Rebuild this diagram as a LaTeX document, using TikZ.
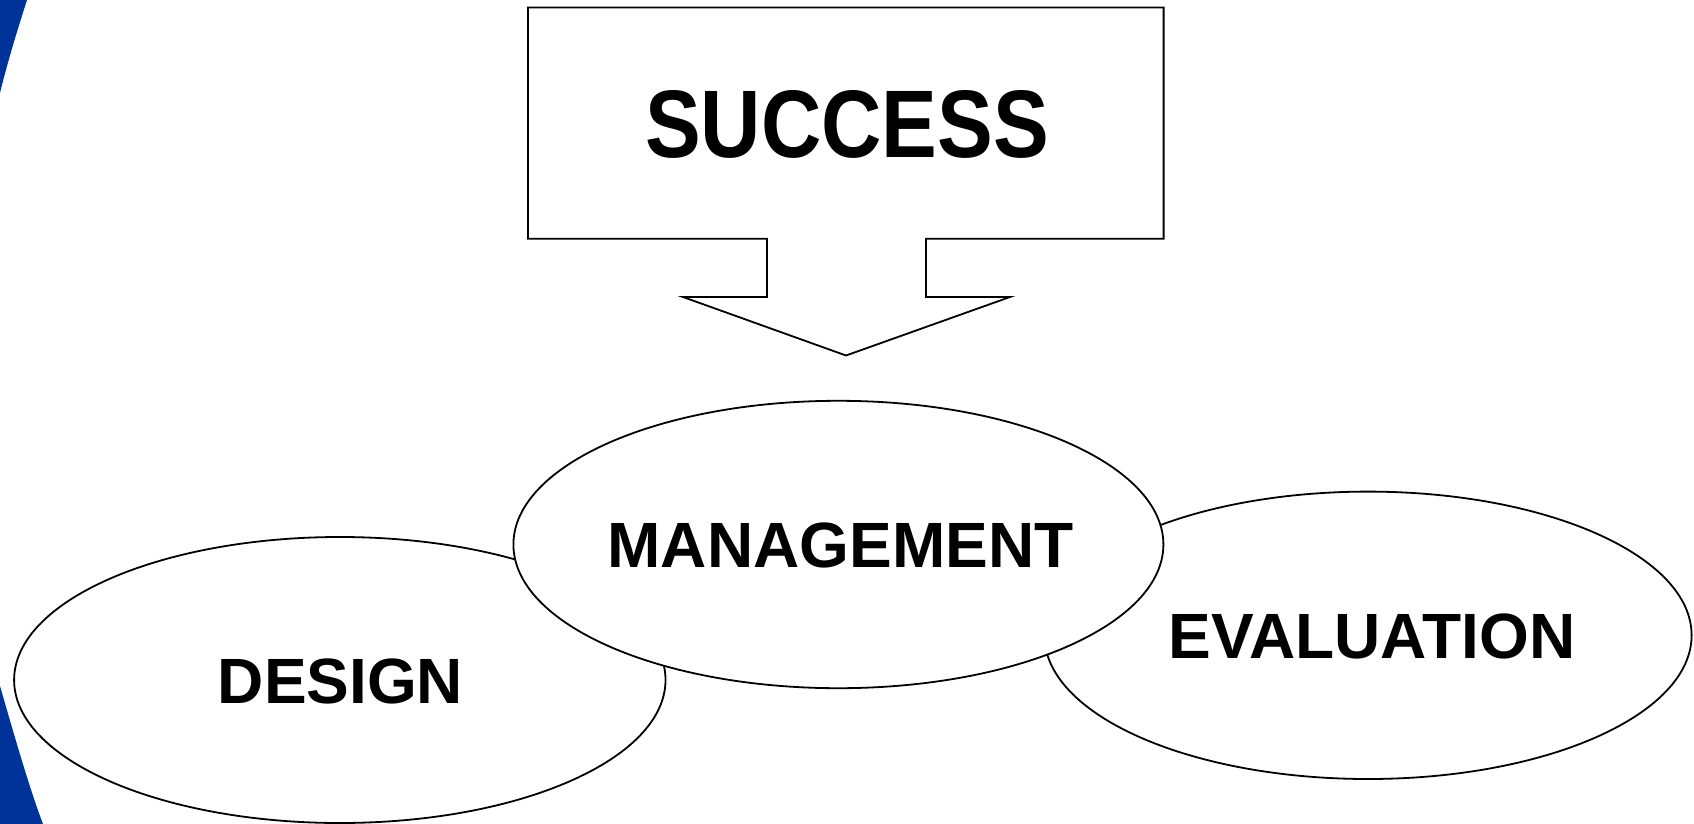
\documentclass[tikz,border=0pt]{standalone}
\usepackage{fontspec}
\setmainfont{Liberation Sans}
\usetikzlibrary{shapes.geometric}
\definecolor{edgeblue}{RGB}{0,51,153}
\tikzset{
  blob/.style={ellipse, draw=black, fill=white, line width=1.8pt, inner sep=0pt},
  lbl/.style={inner sep=0pt, font=\fontsize{64}{64}\selectfont\bfseries},
  calloutline/.style={draw=black, fill=white, line width=1.8pt, line join=miter}
}
\begin{document}
\begin{tikzpicture}[x=1pt,y=-1pt]
\useasboundingbox (0,0) rectangle (1694,824);
\fill[white] (0,0) rectangle (1694,824);
% blue border fragments
\fill[edgeblue] (0,0) -- (27,0) .. controls (19,25) and (8,60) .. (0,93) -- cycle;
\fill[edgeblue] (0,686) .. controls (15,738) and (30,790) .. (43,824) -- (0,824) -- cycle;
% callout
\draw[calloutline] (528,7.6) -- (1163.6,7.6) -- (1163.6,238.8) -- (926,238.8) -- (926,297)
  -- (1010,297) -- (846,355.5) -- (683,297) -- (767,297) -- (767,238.8) -- (528,238.8) -- cycle;
\node[inner sep=0pt, font=\fontsize{96}{96}\selectfont\bfseries] (success) at (847,124) {\scalebox{0.87}[1]{SUCCESS}};
% ellipses
\node[blob, minimum width=651.4pt, minimum height=286pt] (design) at (339.8,680) {};
\node[blob, minimum width=647.2pt, minimum height=287.4pt] (evaluation) at (1368,635.3) {};
\node[blob, minimum width=650pt, minimum height=287.4pt] (management) at (838.4,544.5) {};
\node[lbl] (designt) at (340.5,681) {DESIGN};
\node[lbl] (evaluationt) at (1372,636) {EVALUATION};
\node[lbl] (managementt) at (840.5,545.5) {MANAGEMENT};
\end{tikzpicture}
\end{document}
